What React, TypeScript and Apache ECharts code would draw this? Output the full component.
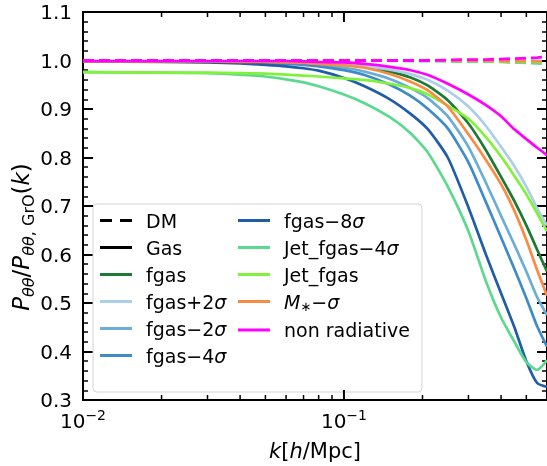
import React, { useEffect, useRef } from 'react';
import * as echarts from 'echarts';

// ---------- data ----------
const kValues = [0.01, 0.02, 0.03, 0.04, 0.05, 0.06, 0.07, 0.08, 0.1, 0.12, 0.15, 0.18, 0.21, 0.25, 0.3, 0.35, 0.4, 0.45, 0.5, 0.55, 0.6];

const gasFgas = [0.998, 0.998, 0.998, 0.997, 0.997, 0.996, 0.995, 0.994, 0.991, 0.987, 0.977, 0.965, 0.948, 0.918, 0.87, 0.815, 0.76, 0.71, 0.66, 0.61, 0.565];
const gasFgasP2 = [0.998, 0.998, 0.998, 0.998, 0.997, 0.997, 0.996, 0.995, 0.992, 0.988, 0.981, 0.972, 0.96, 0.938, 0.905, 0.865, 0.822, 0.782, 0.74, 0.695, 0.66];
const gasFgasM2 = [0.998, 0.998, 0.997, 0.997, 0.996, 0.995, 0.993, 0.991, 0.985, 0.977, 0.962, 0.943, 0.922, 0.885, 0.822, 0.748, 0.68, 0.62, 0.565, 0.512, 0.475];
const gasFgasM4 = [0.998, 0.998, 0.997, 0.996, 0.995, 0.993, 0.991, 0.988, 0.98, 0.97, 0.95, 0.927, 0.9, 0.86, 0.79, 0.708, 0.635, 0.57, 0.51, 0.452, 0.41];
const gasFgasM8 = [0.998, 0.997, 0.996, 0.994, 0.991, 0.988, 0.984, 0.979, 0.964, 0.947, 0.92, 0.89, 0.858, 0.8, 0.697, 0.6, 0.52, 0.45, 0.38, 0.335, 0.327];
const gasJetFgasM4 = [0.976, 0.975, 0.974, 0.971, 0.967, 0.961, 0.955, 0.947, 0.93, 0.912, 0.883, 0.85, 0.81, 0.74, 0.648, 0.545, 0.47, 0.42, 0.378, 0.362, 0.382];
const gasJetFgas = [0.976, 0.975, 0.975, 0.974, 0.973, 0.971, 0.969, 0.967, 0.963, 0.96, 0.952, 0.943, 0.93, 0.907, 0.88, 0.842, 0.802, 0.762, 0.724, 0.685, 0.648];
const gasMstar = [0.998, 0.998, 0.998, 0.997, 0.997, 0.996, 0.995, 0.993, 0.99, 0.985, 0.972, 0.956, 0.938, 0.905, 0.848, 0.795, 0.745, 0.69, 0.63, 0.568, 0.515];
const gasNonRad = [0.999, 0.999, 0.999, 0.999, 0.999, 0.999, 0.998, 0.997, 0.996, 0.993, 0.987, 0.98, 0.97, 0.952, 0.93, 0.908, 0.885, 0.858, 0.838, 0.82, 0.805];

const dmFgas = [1.0, 1.0, 1.0, 1.0, 1.0, 1.0, 1.0, 1.0, 1.0, 1.0, 1.0, 1.0, 1.0, 1.0, 1.0, 0.999, 0.999, 0.999, 0.999, 0.998, 0.998];
const dmFgasP2 = [1.0, 1.0, 1.0, 1.0, 1.0, 1.0, 1.0, 1.0, 1.0, 1.0, 1.0, 1.0, 1.0, 1.0, 1.0, 1.0, 1.0, 1.0, 1.0, 0.999, 0.999];
const dmFgasM2 = [1.0, 1.0, 1.0, 1.0, 1.0, 1.0, 1.0, 1.0, 1.0, 1.0, 1.0, 1.0, 1.0, 1.0, 0.999, 0.999, 0.999, 0.998, 0.998, 0.998, 0.997];
const dmFgasM4 = [1.0, 1.0, 1.0, 1.0, 1.0, 1.0, 1.0, 1.0, 1.0, 1.0, 1.0, 1.0, 1.0, 1.0, 0.999, 0.999, 0.998, 0.998, 0.997, 0.997, 0.996];
const dmFgasM8 = [1.0, 1.0, 1.0, 1.0, 1.0, 1.0, 1.0, 1.0, 1.0, 1.0, 1.0, 1.0, 1.0, 0.999, 0.999, 0.998, 0.998, 0.997, 0.997, 0.996, 0.996];
const dmJetFgasM4 = [1.0, 1.0, 1.0, 1.0, 1.0, 1.0, 1.0, 1.0, 1.0, 1.0, 1.0, 0.999, 0.999, 0.999, 0.998, 0.998, 0.997, 0.996, 0.995, 0.994, 0.993];
const dmJetFgas = [1.0, 1.0, 1.0, 1.0, 1.0, 1.0, 1.0, 1.0, 1.0, 1.0, 1.0, 1.0, 1.0, 0.999, 0.999, 0.999, 0.998, 0.998, 0.997, 0.997, 0.996];
const dmMstar = [1.0, 1.0, 1.0, 1.0, 1.0, 1.0, 1.0, 1.0, 1.0, 1.0, 1.0, 1.0, 1.0, 1.0, 1.0, 1.0, 0.999, 0.999, 0.999, 0.998, 0.998];
const dmNonRad = [1.0, 1.0, 1.0, 1.0, 1.0, 1.0, 1.0, 1.0, 1.0, 1.0, 1.0, 1.0, 1.0, 1.001, 1.002, 1.002, 1.003, 1.004, 1.005, 1.006, 1.008];

const modelNames = ['fgas', 'fgas+2σ', 'fgas−2σ', 'fgas−4σ', 'fgas−8σ', 'Jet_fgas−4σ', 'Jet_fgas', 'M*−σ', 'non radiative'];
const gasSeries = [gasFgas, gasFgasP2, gasFgasM2, gasFgasM4, gasFgasM8, gasJetFgasM4, gasJetFgas, gasMstar, gasNonRad];
const dmSeries = [dmFgas, dmFgasP2, dmFgasM2, dmFgasM4, dmFgasM8, dmJetFgasM4, dmJetFgas, dmMstar, dmNonRad];

const yTickMin = 0.3;
const yTickMax = 1.1;
const yTickStep = 0.1;
const xMin = 0.01;
const xMax = 0.6;
const xMajorTicks = [0.01, 0.1];
const xMinorTicks = [0.02, 0.03, 0.04, 0.05, 0.06, 0.07, 0.08, 0.09, 0.2, 0.3, 0.4, 0.5];

const legendCol1 = ['DM', 'Gas', 'fgas', 'fgas+2σ', 'fgas−2σ', 'fgas−4σ'];
const legendCol2 = ['fgas−8σ', 'Jet_fgas−4σ', 'Jet_fgas', 'M*−σ', 'non radiative'];

// ---------- styles ----------
const palette = ['#1d7a35', '#abcfe6', '#6aaed6', '#3e8cc7', '#1f5ea6', '#5bd98e', '#80f23c', '#fb8b42', '#ff00ff'];
const FONT = 'DejaVu Sans';

const solidIcon = 'path://M0,0H32V3H0Z';
const dashIcon = 'path://M0,0H12V3H0Z M20,0H32V3H20Z';

function legendFormatter(name: string): string {
  if (name === 'M*−σ') return '{it|M}{sub|∗}{n|−}{it|σ}';
  if (name.endsWith('σ')) return '{n|' + name.slice(0, -1) + '}{it|σ}';
  return '{n|' + name + '}';
}

const legendRich = {
  n: { fontSize: 19, fontFamily: FONT, color: '#000', lineHeight: 22 },
  it: { fontSize: 19, fontFamily: FONT, fontStyle: 'italic', color: '#000', lineHeight: 22 },
  sub: { fontSize: 13, fontFamily: FONT, color: '#000', lineHeight: 12, verticalAlign: 'bottom' },
};

function makeLegend(names: string[], left: number) {
  return {
    orient: 'vertical',
    left,
    top: 211,
    padding: 0,
    itemWidth: 32,
    itemHeight: 22,
    itemGap: 8,
    z: 6,
    selectedMode: false,
    itemStyle: { borderWidth: 0 },
    data: names.map((n) => ({ name: n, icon: n === 'DM' ? dashIcon : solidIcon })),
    formatter: legendFormatter,
    textStyle: { padding: [0, 0, 0, 9], rich: legendRich, fontSize: 19, fontFamily: FONT, color: '#000' },
  };
}

export default function App() {
  const ref = useRef<HTMLDivElement>(null);

  useEffect(() => {
    if (!ref.current) return;
    const chart = echarts.init(ref.current, null, { renderer: 'svg' });

    const series: any[] = [];
    modelNames.forEach((name, i) => {
      series.push({
        name: name + ' DM',
        type: 'line',
        data: kValues.map((k, j) => [k, dmSeries[i][j]]),
        showSymbol: false,
        symbol: 'none',
        silent: true,
        lineStyle: { color: palette[i], width: 2.8, type: [11, 5] },
        itemStyle: { color: palette[i] },
      });
      series.push({
        name,
        type: 'line',
        data: kValues.map((k, j) => [k, gasSeries[i][j]]),
        showSymbol: false,
        symbol: 'none',
        silent: true,
        smooth: 0.2,
        lineStyle: { color: palette[i], width: 2.7 },
        itemStyle: { color: palette[i] },
      });
    });
    series.push({ name: 'DM', type: 'line', data: [], itemStyle: { color: '#000' }, lineStyle: { color: '#000' } });
    series.push({ name: 'Gas', type: 'line', data: [], itemStyle: { color: '#000' }, lineStyle: { color: '#000' } });

    const tickData = [...xMajorTicks.map((k) => [k, 1]), ...xMinorTicks.map((k) => [k, 0])];
    series.push({
      type: 'custom',
      silent: true,
      clip: false,
      z: 10,
      data: tickData,
      encode: { x: 0 },
      renderItem: (params: any, api: any) => {
        const k = api.value(0);
        const major = api.value(1) === 1;
        const len = major ? 10 : 5;
        const b = api.coord([k, yTickMin]);
        const t = api.coord([k, yTickMax]);
        const st = { stroke: '#000', lineWidth: major ? 2 : 1.5 };
        return {
          type: 'group',
          children: [
            { type: 'line', shape: { x1: b[0], y1: b[1], x2: b[0], y2: b[1] - len }, style: st },
            { type: 'line', shape: { x1: t[0], y1: t[1], x2: t[0], y2: t[1] + len }, style: st },
          ],
        };
      },
    });

    const yAxisCommon = {
      type: 'value',
      min: yTickMin,
      max: yTickMax,
      interval: yTickStep,
      axisLine: { show: false },
      splitLine: { show: false },
      minorSplitLine: { show: false },
      axisTick: { show: true, inside: true, length: 10, lineStyle: { color: '#000', width: 2 } },
      minorTick: { show: true, splitNumber: 5, length: 5, lineStyle: { color: '#000', width: 1.5 } },
    };

    const option: any = {
      animation: false,
      grid: { left: 83, top: 12, width: 464, height: 388, show: true, borderColor: '#000', borderWidth: 2, backgroundColor: 'transparent' },
      xAxis: {
        type: 'log',
        logBase: 10,
        min: xMin,
        max: xMax,
        axisLine: { show: false },
        axisTick: { show: false },
        splitLine: { show: false },
        minorSplitLine: { show: false },
        axisLabel: {
          margin: 8,
          showMaxLabel: false,
          formatter: (v: number) => {
            const e = Math.log10(v);
            const r = Math.round(e);
            if (Math.abs(e - r) > 1e-6) return '';
            return '{b|10}{s|' + (r < 0 ? '−' + -r : String(r)) + '}';
          },
          rich: {
            b: { fontSize: 20, fontFamily: FONT, color: '#000', lineHeight: 26 },
            s: { fontSize: 14, fontFamily: FONT, color: '#000', lineHeight: 16, verticalAlign: 'top' },
          },
        },
        name: '{it|k}{n|[}{it|h}{n|/Mpc]}',
        nameLocation: 'middle',
        nameGap: 40,
        nameTextStyle: {
          rich: {
            it: { fontSize: 21, fontFamily: FONT, fontStyle: 'italic', color: '#000' },
            n: { fontSize: 21, fontFamily: FONT, color: '#000' },
          },
        },
      },
      yAxis: [
        {
          ...yAxisCommon,
          position: 'left',
          axisLabel: { margin: 11, fontSize: 20, fontFamily: FONT, color: '#000', formatter: (v: number) => v.toFixed(1) },
        },
        { ...yAxisCommon, position: 'right', axisLabel: { show: false } },
      ],
      legend: [makeLegend(legendCol1, 100), makeLegend(legendCol2, 238)],
      graphic: [
        {
          type: 'rect',
          z: 5,
          shape: { x: 93, y: 204, width: 329, height: 188, r: 4 },
          style: { fill: 'rgba(255,255,255,0.8)', stroke: '#d4d4d4', lineWidth: 1 },
          silent: true,
        },
        {
          type: 'text',
          x: 21,
          y: 237,
          rotation: Math.PI / 2,
          z: 5,
          style: {
            text: '{it|P}{sub|θθ}{n|/}{it|P}{sub|θθ}{subr|, GrO}{n|(}{it|k}{n|)}',
            align: 'center',
            verticalAlign: 'middle',
            fill: '#000',
            rich: {
              it: { fontSize: 23, fontFamily: FONT, fontStyle: 'italic', fill: '#000', lineHeight: 30 },
              n: { fontSize: 23, fontFamily: FONT, fill: '#000', lineHeight: 30 },
              sub: { fontSize: 16, fontFamily: FONT, fontStyle: 'italic', fill: '#000', lineHeight: 16, verticalAlign: 'bottom' },
              subr: { fontSize: 16, fontFamily: FONT, fill: '#000', lineHeight: 16, verticalAlign: 'bottom' },
            },
          },
        },
      ],
      series,
    };

    chart.setOption(option);
    return () => chart.dispose();
  }, []);

  return <div ref={ref} style={{ position: 'fixed', left: 0, top: 0, width: 547, height: 466 }} />;
}
